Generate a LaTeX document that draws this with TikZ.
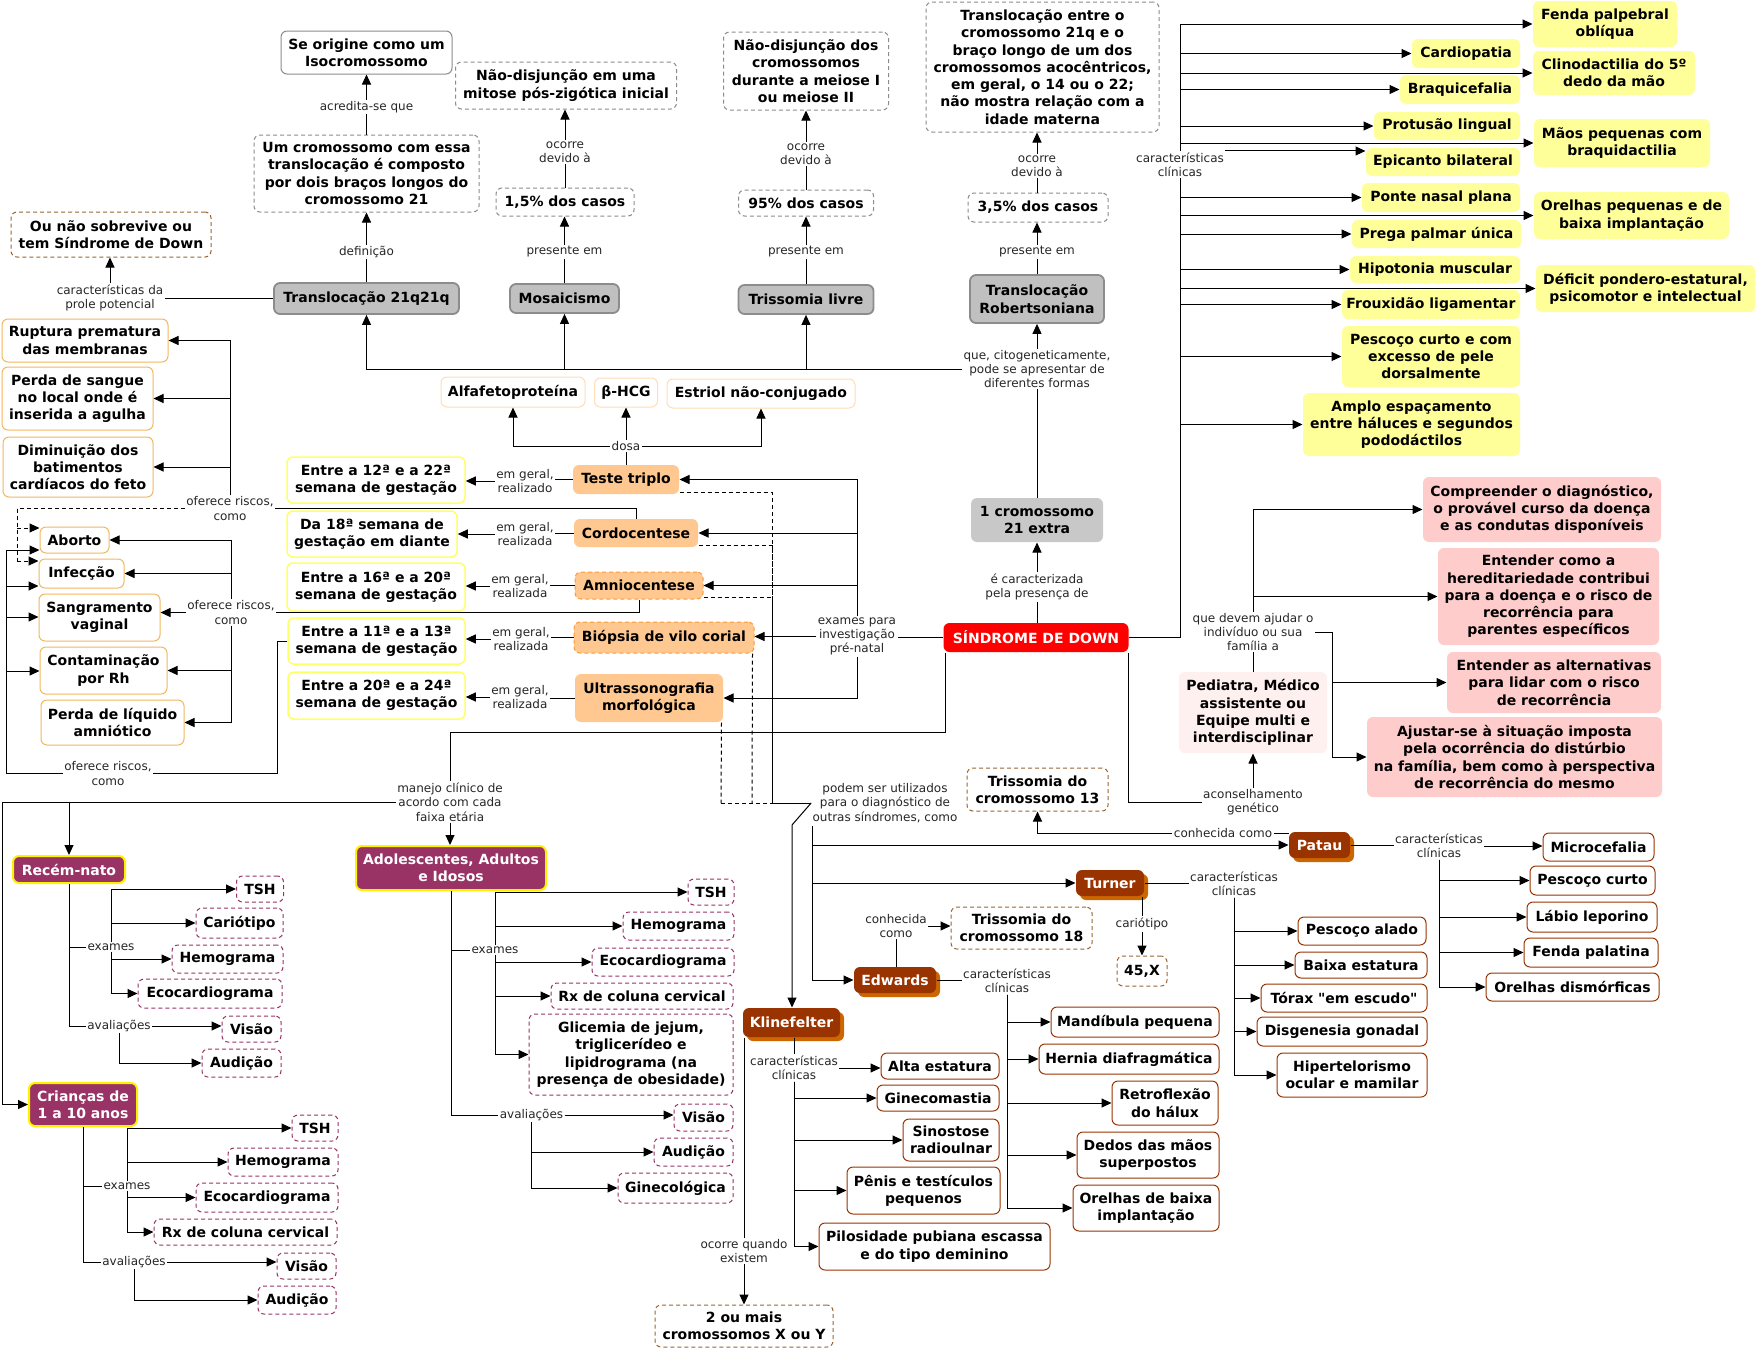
\documentclass[tikz,border=0pt]{standalone}
\usepackage{fontspec}
\setmainfont{DejaVu Sans}
\usetikzlibrary{arrows.meta,shadows,calc}
\definecolor{cgrayb}{HTML}{8C8C8C}
\definecolor{cgrayf}{HTML}{C0C0C0}
\definecolor{cgrayx}{HTML}{C8C8C8}
\definecolor{cbrown}{HTML}{993300}
\definecolor{cbrownd}{HTML}{996633}
\definecolor{cshadow}{HTML}{CC6600}
\definecolor{corb}{HTML}{F0B860}
\definecolor{cyb}{HTML}{FFFF66}
\definecolor{cof}{HTML}{FFC891}
\definecolor{cod}{HTML}{FF9933}
\definecolor{colb}{HTML}{FFDDB8}
\definecolor{cpurp}{HTML}{993366}
\definecolor{cyel}{HTML}{FFFF99}
\definecolor{cpink}{HTML}{FFCCCC}
\definecolor{cpale}{HTML}{FFF0F0}
\definecolor{cred}{HTML}{FF0000}
\newcommand\nodefont{\fontsize{14pt}{17.3pt}\selectfont\bfseries}
\newcommand\lblfont{\fontsize{12pt}{14.3pt}\selectfont}
\newcommand\Nd[7]{\node[#2,minimum width=#5pt,minimum height=#6pt] (#1) at (#3,#4) {#7};}
\newcommand\Lb[4]{\node[lbl] (#1) at (#2,#3) {#4};}
\begin{document}
\begin{tikzpicture}[x=1pt,y=-1pt,line width=1pt,
 arr/.style={-{Triangle[length=10pt,width=9pt]}},
 dsh/.style={dash pattern=on 4pt off 3pt},
 base/.style={rounded corners=6pt,align=center,inner sep=2pt,font=\nodefont,line width=1pt},
 gbox/.style={base,draw=cgrayb,fill=white},
 gdash/.style={base,draw=cgrayb,fill=white,dsh},
 gfill/.style={base,draw=cgrayb,fill=cgrayf,line width=1.8pt},
 xfill/.style={base,fill=cgrayx},
 bdash/.style={base,draw=cbrownd,fill=white,dsh},
 obox/.style={base,draw=corb,fill=white},
 ybox/.style={base,draw=cyb,fill=white,line width=1.5pt},
 ofill/.style={base,fill=cof},
 odash/.style={base,fill=cof,draw=cod,dsh},
 olb/.style={base,draw=colb,fill=white},
 sdb/.style={base,fill=cred,text=white},
 purp/.style={base,fill=cpurp,draw=yellow,line width=2pt,text=white},
 pdash/.style={base,draw=cpurp,fill=white,dsh},
 brn/.style={base,fill=cbrown,text=white,general shadow={fill=cshadow,shadow xshift=4pt,shadow yshift=-4pt}},
 bbox/.style={base,draw=cbrown,fill=white},
 yfill/.style={base,fill=cyel},
 pinkb/.style={base,fill=cpink},
 paleb/.style={base,fill=cpale},
 lbl/.style={font=\lblfont,align=center,inner sep=1pt,fill=white,text=black!85},
]
\fill[white] (0,0) rectangle (1757,1350);
\useasboundingbox (0,0) rectangle (1757,1350);

% ---------- top columns ----------
\Nd{iso}{gbox}{366.5}{52.5}{171}{43}{Se origine como um\\Isocromossomo}
\Nd{umcrom}{gdash}{366.5}{173.5}{225}{77}{Um cromossomo com essa\\translocação é composto\\por dois braços longos do\\cromossomo 21}
\Nd{t21}{gfill}{366.5}{298.5}{185}{31}{Translocação 21q21q}
\Nd{ounao}{bdash}{111}{234.5}{200}{45}{Ou não sobrevive ou\\tem Síndrome de Down}
\Nd{mosaic}{gfill}{564.5}{298.5}{109}{29}{Mosaicismo}
\Nd{p15}{gdash}{565}{202}{138}{28}{1,5\% dos casos}
\Nd{ndmit}{gdash}{566}{85.5}{221}{47}{Não-disjunção em uma\\mitose pós-zigótica inicial}
\Nd{tlivre}{gfill}{806}{299.5}{135}{29}{Trissomia livre}
\Nd{p95}{gdash}{806}{203}{135}{26}{95\% dos casos}
\Nd{ndmei}{gdash}{806}{71}{165}{78}{Não-disjunção dos\\cromossomos\\durante a meiose I\\ou meiose II}
\Nd{trob}{gfill}{1037}{299}{134}{48}{Translocação\\Robertsoniana}
\Nd{p35}{gdash}{1038}{207.5}{140}{29}{3,5\% dos casos}
\Nd{translong}{gdash}{1042.5}{67}{233}{130}{Translocação entre o\\cromossomo 21q e o\\braço longo de um dos\\cromossomos acocêntricos,\\em geral, o 14 ou o 22;\\não mostra relação com a\\idade materna}
\Nd{umextra}{xfill}{1037}{520}{132}{44}{1 cromossomo\\21 extra}
\Nd{sd}{sdb}{1036}{637.5}{185}{29}{SÍNDROME DE DOWN}

\Lb{lacred}{366.5}{107}{acredita-se que}
\Lb{ldef}{366.5}{252}{definição}
\Lb{lprole}{110}{298}{características da\\prole potencial}
\Lb{lpres1}{564.5}{252}{presente em}
\Lb{loc1}{565}{152}{ocorre\\devido à}
\Lb{lpres2}{806}{252}{presente em}
\Lb{loc2}{806}{154}{ocorre\\devido à}
\Lb{lpres3}{1037}{252}{presente em}
\Lb{loc3}{1037}{166}{ocorre\\devido à}
\Lb{lcitog}{1037}{369}{que, citogeneticamente,\\pode se apresentar de\\diferentes formas}
\Lb{lcarsd}{1037}{587}{é caracterizada\\pela presença de}

\draw (t21.north) -- (ldef.south);
\draw[arr] (ldef.north) -- (umcrom.south);
\draw (umcrom.north) -- (lacred.south);
\draw[arr] (lacred.north) -- (iso.south);
\draw (t21.west) -- (t21.west -| lprole.east);
\draw[arr] (lprole.north) -- (lprole.north |- ounao.south);
\draw (mosaic.north) -- (lpres1.south);
\draw[arr] (lpres1.north) -- (lpres1.north |- p15.south);
\draw (p15.north -| loc1.south) -- (loc1.south);
\draw[arr] (loc1.north) -- (loc1.north |- ndmit.south);
\draw (tlivre.north) -- (lpres2.south);
\draw[arr] (lpres2.north) -- (p95.south);
\draw (p95.north) -- (loc2.south);
\draw[arr] (loc2.north) -- (ndmei.south);
\draw (trob.north) -- (lpres3.south);
\draw[arr] (lpres3.north) -- (lpres3.north |- p35.south);
\draw (p35.north -| loc3.south) -- (loc3.south);
\draw[arr] (loc3.north) -- (loc3.north |- translong.south);
\draw[arr] (lcitog.west) -| (t21.south);
\draw[arr] (lcitog.west) -| (mosaic.south);
\draw[arr] (lcitog.west) -| (tlivre.south);
\draw[arr] (lcitog.north) -- (trob.south);
\draw (umextra.north) -- (lcitog.south);
\draw (sd.north -| lcarsd.south) -- (lcarsd.south);
\draw[arr] (lcarsd.north) -- (umextra.south);

% ---------- risks ----------
\Nd{rupt}{obox}{85}{340.5}{166}{43}{Ruptura prematura\\das membranas}
\Nd{perda}{obox}{77.5}{398.5}{151}{63}{Perda de sangue\\no local onde é\\inserida a agulha}
\Nd{dimin}{obox}{78}{467}{150}{60}{Diminuição dos\\batimentos\\cardíacos do feto}
\Nd{aborto}{obox}{74.5}{540}{69}{26}{Aborto}
\Nd{infec}{obox}{81.5}{573.5}{85}{29}{Infecção}
\Nd{sangr}{obox}{99.5}{617.5}{121}{47}{Sangramento\\vaginal}
\Nd{contam}{obox}{103.5}{670.5}{127}{47}{Contaminação\\por Rh}
\Nd{perdaliq}{obox}{112.5}{722.5}{143}{45}{Perda de líquido\\amniótico}
\Lb{lr1}{230}{508.5}{oferece riscos,\\como}
\Lb{lr2}{231}{612.5}{oferece riscos,\\como}
\Lb{lr3}{108}{773.5}{oferece riscos,\\como}

% ---------- exams ----------
\Nd{e12}{ybox}{376}{480}{178}{46}{Entre a 12ª e a 22ª\\semana de gestação}
\Nd{e18}{ybox}{372}{534}{170}{46}{Da 18ª semana de\\gestação em diante}
\Nd{e16}{ybox}{376}{587}{178}{48}{Entre a 16ª e a 20ª\\semana de gestação}
\Nd{e11}{ybox}{376.5}{641}{177}{46}{Entre a 11ª e a 13ª\\semana de gestação}
\Nd{e20}{ybox}{376.5}{695.5}{177}{47}{Entre a 20ª e a 24ª\\semana de gestação}
\Lb{lg1}{525}{481}{em geral,\\realizado}
\Lb{lg2}{525}{534}{em geral,\\realizada}
\Lb{lg3}{520}{586}{em geral,\\realizada}
\Lb{lg4}{521}{639}{em geral,\\realizada}
\Lb{lg5}{520}{697}{em geral,\\realizada}
\Nd{tt}{ofill}{626}{479.5}{106}{29}{Teste triplo}
\Nd{cordo}{ofill}{636}{533}{124}{28}{Cordocentese}
\Nd{amnio}{odash}{639}{585.5}{128}{27}{Amniocentese}
\Nd{biop}{odash}{664}{637.5}{180}{31}{Biópsia de vilo corial}
\Nd{ultra}{ofill}{649}{698}{148}{48}{Ultrassonografia\\morfológica}
\Lb{lexam}{857}{636.5}{exames para\\investigação\\pré-natal}
\Nd{alfa}{olb}{513}{392}{144}{30}{Alfafetoproteína}
\Nd{bhcg}{olb}{626}{392.5}{63}{29}{β-HCG}
\Nd{estriol}{olb}{761}{393.5}{188}{29}{Estriol não-conjugado}
\Lb{ldosa}{626}{446}{dosa}

\draw (sd.west) -- (sd.west -| lexam.east);
\draw[arr] (lexam.north) |- (tt.east);
\draw[arr] (lexam.north) |- (cordo.east);
\draw[arr] (lexam.north) |- (amnio.east);
\draw[arr] (lexam.west) -- (lexam.west -| biop.east);
\draw[arr] (lexam.south) |- (ultra.east);
\draw (tt.west) -- (tt.west -| lg1.east);
\draw[arr] (lg1.west) -- (lg1.west -| e12.east);
\draw (cordo.west) -- (cordo.west -| lg2.east);
\draw[arr] (lg2.west) -- (lg2.west -| e18.east);
\draw (amnio.west) -- (amnio.west -| lg3.east);
\draw[arr] (lg3.west) -- (lg3.west -| e16.east);
\draw (biop.west) -- (biop.west -| lg4.east);
\draw[arr] (lg4.west) -- (lg4.west -| e11.east);
\draw (ultra.west) -- (ultra.west -| lg5.east);
\draw[arr] (lg5.west) -- (lg5.west -| e20.east);
\draw (tt.north) -- (tt.north |- ldosa.south);
\draw[arr] (ldosa.north) -- (ldosa.north |- bhcg.south);
\draw[arr] (ldosa.west) -| (alfa.south);
\draw[arr] (ldosa.east) -| (estriol.south);

% risk connectors
\draw (cordo.north) |- (lr1.east);
\draw[arr] (lr1.north) |- (rupt.east);
\draw[arr] (lr1.north) |- (perda.east);
\draw[arr] (lr1.north) |- (dimin.east);
\coordinate (q1) at (17,508.5);
\coordinate (qa) at (17,528);
\coordinate (q2) at (17,561);
\draw[dsh] (lr1.west) -- (q1) -- (q2);
\draw[dsh,arr] (qa) -- (qa -| aborto.west);
\draw[dsh,arr] (q2) -- (q2 -| infec.west);
\draw (amnio.south) |- (lr2.east);
\draw[arr] (lr2.north) |- (aborto.east);
\draw[arr] (lr2.north) |- (infec.east);
\draw[arr] (lr2.west) -- (lr2.west -| sangr.east);
\draw[arr] (lr2.south) |- (contam.east);
\draw[arr] (lr2.south) |- (perdaliq.east);
\coordinate (q3) at (277,773.5);
\coordinate (q4) at (6,773.5);
\coordinate (r1) at (6,550);
\coordinate (r2) at (6,586);
\coordinate (r3) at (6,617);
\coordinate (r4) at (6,671);
\draw (e11.west) -| (q3) -- (lr3.east);
\draw (lr3.west) -- (q4) -- (r1);
\draw[arr] (r1) -- (r1 -| aborto.west);
\draw[arr] (r2) -- (r2 -| infec.west);
\draw[arr] (r3) -- (r3 -| sangr.west);
\draw[arr] (r4) -- (r4 -| contam.west);

% ---------- management ----------
\Lb{lman}{450}{802}{manejo clínico de\\acordo com cada\\faixa etária}
\Nd{recem}{purp}{69}{869.5}{112}{27}{Recém-nato}
\Nd{adol}{purp}{451}{868}{190}{44}{Adolescentes, Adultos\\e Idosos}
\Nd{crian}{purp}{83}{1104.5}{108}{43}{Crianças de\\1 a 10 anos}
\draw ($(sd.south west)+(2,0)$) -- ++(0,80) -| (lman.north);
\draw[arr] (lman.south) -- (lman.south |- adol.north);
\coordinate (m1) at (2,802);
\draw[arr] (lman.west) -- (m1) |- (crian.west);
\draw[arr] (recem.north |- lman.west) -- (recem.north);

\Nd{tsh1}{pdash}{260}{889}{47}{26}{TSH}
\Nd{cario}{pdash}{239.5}{923}{87}{30}{Cariótipo}
\Nd{hemo1}{pdash}{227.5}{959}{111}{28}{Hemograma}
\Nd{eco1}{pdash}{210}{993.5}{144}{29}{Ecocardiograma}
\Nd{vis1}{pdash}{251.5}{1029}{59}{26}{Visão}
\Nd{aud1}{pdash}{241.5}{1063}{79}{28}{Audição}
\Lb{lex1}{111}{947}{exames}
\Lb{lav1}{119}{1026}{avaliações}
\draw (recem.south) |- (lex1.west);
\draw (recem.south) |- (lav1.west);
\draw[arr] (lex1.north) |- (tsh1.west);
\draw[arr] (lex1.north) |- (cario.west);
\draw[arr] (lex1.south) |- (hemo1.west);
\draw[arr] (lex1.south) |- (eco1.west);
\draw[arr] (lav1.east) -- (lav1.east -| vis1.west);
\draw[arr] (lav1.south) |- (aud1.west);

\Nd{tsh2}{pdash}{315}{1128}{46}{26}{TSH}
\Nd{hemo2}{pdash}{283}{1162}{110}{28}{Hemograma}
\Nd{eco2}{pdash}{267}{1197.5}{142}{29}{Ecocardiograma}
\Nd{rx2}{pdash}{245.5}{1232}{183}{26}{Rx de coluna cervical}
\Nd{vis2}{pdash}{306.5}{1266}{59}{26}{Visão}
\Nd{aud2}{pdash}{297}{1300}{78}{28}{Audição}
\Lb{lex2}{127}{1186}{exames}
\Lb{lav2}{134}{1262}{avaliações}
\draw (crian.south) |- (lex2.west);
\draw (crian.south) |- (lav2.west);
\draw[arr] (lex2.north) |- (tsh2.west);
\draw[arr] (lex2.north) |- (hemo2.west);
\draw[arr] (lex2.south) |- (eco2.west);
\draw[arr] (lex2.south) |- (rx2.west);
\draw[arr] (lav2.east) -- (lav2.east -| vis2.west);
\draw[arr] (lav2.south) |- (aud2.west);

\Nd{tsh3}{pdash}{711}{892}{46}{26}{TSH}
\Nd{hemo3}{pdash}{678.5}{926}{111}{28}{Hemograma}
\Nd{eco3}{pdash}{663}{962}{142}{28}{Ecocardiograma}
\Nd{rx3}{pdash}{642}{996}{182}{26}{Rx de coluna cervical}
\Nd{glic}{pdash}{631}{1054.5}{204}{81}{Glicemia de jejum,\\triglicerídeo e\\lipidrograma (na\\presença de obesidade)}
\Nd{vis3}{pdash}{703.5}{1117.5}{59}{27}{Visão}
\Nd{aud3}{pdash}{693.5}{1152}{79}{28}{Audição}
\Nd{gin3}{pdash}{675.5}{1188}{115}{30}{Ginecológica}
\Lb{lex3}{495}{950}{exames}
\Lb{lav3}{531.5}{1115}{avaliações}
\draw (adol.south) |- (lex3.west);
\draw (adol.south) |- (lav3.west);
\draw[arr] (lex3.north) |- (tsh3.west);
\draw[arr] (lex3.north) |- (hemo3.west);
\draw[arr] (lex3.south) |- (eco3.west);
\draw[arr] (lex3.south) |- (rx3.west);
\draw[arr] (lex3.south) |- (glic.west);
\draw[arr] (lav3.east) -- (lav3.east -| vis3.west);
\draw[arr] (lav3.south) |- (aud3.west);
\draw[arr] (lav3.south) |- (gin3.west);

% ---------- other syndromes ----------
\Lb{lpod}{885}{803}{podem ser utilizados\\para o diagnóstico de\\outras síndromes, como}
\coordinate (s1) at (772,803);
\coordinate (s2) at (752,803);
\coordinate (s3) at (721,803);
\draw[dsh] ($(tt.south east)+(0,-2)$) -| (s1);
\draw[dsh] ($(cordo.south east)+(0,-2)$) -| (s1);
\draw[dsh] ($(amnio.south east)+(0,-2)$) -| (s1);
\draw[dsh] ($(biop.south east)+(-2,0)$) -- (s2);
\draw[dsh] ($(ultra.south east)+(-2,0)$) -- (s3);
\draw[dsh] (s3) -- (s1);
\draw (s1) -- (s1 -| lpod.west);

\Nd{patau}{brn}{1319.5}{845}{61}{26}{Patau}
\Nd{tri13}{bdash}{1037.5}{789.5}{141}{43}{Trissomia do\\cromossomo 13}
\Lb{lconh13}{1223}{833}{conhecida como}
\Lb{lccp}{1439}{846}{características\\clínicas}
\Nd{micro}{bbox}{1598.5}{847}{111}{28}{Microcefalia}
\Nd{pescurto}{bbox}{1592.5}{880.5}{125}{29}{Pescoço curto}
\Nd{labio}{bbox}{1592}{917}{130}{30}{Lábio leporino}
\Nd{fendapal}{bbox}{1591}{952.5}{134}{29}{Fenda palatina}
\Nd{oreldis}{bbox}{1572.5}{987}{173}{28}{Orelhas dismórficas}

\Nd{turner}{brn}{1110}{883}{68}{26}{Turner}
\Lb{lcct}{1234}{884}{características\\clínicas}
\Lb{lcar}{1142}{924}{cariótipo}
\Nd{x45}{bdash}{1142}{971}{50}{30}{45,X}
\Nd{pesalado}{bbox}{1362}{931}{128}{28}{Pescoço alado}
\Nd{baixa}{bbox}{1361}{965}{132}{26}{Baixa estatura}
\Nd{torax}{bbox}{1344}{998}{166}{28}{Tórax \textquotedbl em escudo\textquotedbl}
\Nd{disgen}{bbox}{1342}{1031.5}{170}{29}{Disgenesia gonadal}
\Nd{hiper}{bbox}{1352}{1075}{150}{44}{Hipertelorismo\\ocular e mamilar}

\Nd{edw}{brn}{895}{980}{82}{26}{Edwards}
\Lb{lconh18}{896}{926}{conhecida\\como}
\Nd{tri18}{bdash}{1021.5}{928}{141}{42}{Trissomia do\\cromossomo 18}
\Lb{lcce}{1007}{981}{características\\clínicas}
\Nd{mandib}{bbox}{1135}{1022}{168}{30}{Mandíbula pequena}
\Nd{hernia}{bbox}{1129}{1059}{180}{30}{Hernia diafragmática}
\Nd{retro}{bbox}{1165}{1103}{106}{44}{Retroflexão\\do hálux}
\Nd{dedos}{bbox}{1148}{1155}{142}{46}{Dedos das mãos\\superpostos}
\Nd{orelb}{bbox}{1146}{1208}{146}{46}{Orelhas de baixa\\implantação}

\Nd{kline}{brn}{791.5}{1022.5}{97}{29}{Klinefelter}
\Lb{lcck}{794}{1068}{características\\clínicas}
\Nd{alta}{bbox}{940}{1066}{118}{26}{Alta estatura}
\Nd{gineco}{bbox}{938}{1098}{122}{26}{Ginecomastia}
\Nd{sinost}{bbox}{951}{1140}{96}{42}{Sinostose\\radioulnar}
\Nd{penis}{bbox}{923.5}{1190.5}{153}{47}{Pênis e testículos\\pequenos}
\Nd{pilos}{bbox}{934.5}{1246.5}{231}{47}{Pilosidade pubiana escassa\\e do tipo deminino}
\Lb{locq}{744}{1251}{ocorre quando\\existem}
\Nd{xy}{bdash}{744}{1326}{178}{42}{2 ou mais\\cromossomos X ou Y}

\coordinate (kd) at (792,825);
\draw[arr] (lpod.west) -- (kd) -- (kd |- kline.north);
\coordinate (pd) at (812,826);
\draw[arr] (pd) |- (patau.west);
\draw[arr] (pd) |- (turner.west);
\draw[arr] (pd) |- (edw.west);

\draw (lconh13.east) -- (lconh13.east -| patau.west);
\draw[arr] (lconh13.west) -| (tri13.south);
\draw (patau.east) -- (patau.east -| lccp.west);
\draw[arr] (lccp.east) -- (lccp.east -| micro.west);
\draw[arr] (lccp.south) |- (pescurto.west);
\draw[arr] (lccp.south) |- (labio.west);
\draw[arr] (lccp.south) |- (fendapal.west);
\draw[arr] (lccp.south) |- (oreldis.west);

\draw (turner.east) -- (turner.east -| lcct.west);
\draw[arr] (lcct.south) |- (pesalado.west);
\draw[arr] (lcct.south) |- (baixa.west);
\draw[arr] (lcct.south) |- (torax.west);
\draw[arr] (lcct.south) |- (disgen.west);
\draw[arr] (lcct.south) |- (hiper.west);
\draw (lcar.north |- turner.south) -- (lcar.north);
\draw[arr] (lcar.south) -- (x45.north);

\draw (lconh18.south |- edw.north) -- (lconh18.south);
\draw[arr] (lconh18.east) -- (lconh18.east -| tri18.west);
\draw (edw.east) -- (edw.east -| lcce.west);
\draw[arr] (lcce.south) |- (mandib.west);
\draw[arr] (lcce.south) |- (hernia.west);
\draw[arr] (lcce.south) |- (retro.west);
\draw[arr] (lcce.south) |- (dedos.west);
\draw[arr] (lcce.south) |- (orelb.west);

\draw (lcck.north |- kline.south) -- (lcck.north);
\draw[arr] (lcck.east) -- (lcck.east -| alta.west);
\draw[arr] (lcck.south) |- (gineco.west);
\draw[arr] (lcck.south) |- (sinost.west);
\draw[arr] (lcck.south) |- (penis.west);
\draw[arr] (lcck.south) |- (pilos.west);
\draw (locq.north |- kline.south) -- (locq.north);
\draw[arr] (locq.south) -- (xy.north);

% ---------- clinical features ----------
\Lb{lccsd}{1180}{164.5}{características\\clínicas}
\Nd{fenda}{yfill}{1605}{24}{144}{46}{Fenda palpebral\\oblíqua}
\Nd{cardio}{yfill}{1466}{53.5}{108}{29}{Cardiopatia}
\Nd{clino}{yfill}{1614}{73}{162}{44}{Clinodactilia do 5º\\dedo da mão}
\Nd{braqui}{yfill}{1460}{89.5}{120}{29}{Braquicefalia}
\Nd{protus}{yfill}{1447}{126}{146}{28}{Protusão lingual}
\Nd{maos}{yfill}{1622}{143}{176}{48}{Mãos pequenas com\\braquidactilia}
\Nd{epic}{yfill}{1443}{162}{154}{28}{Epicanto bilateral}
\Nd{ponte}{yfill}{1441}{197.5}{158}{29}{Ponte nasal plana}
\Nd{orelpeq}{yfill}{1631.5}{215.5}{195}{47}{Orelhas pequenas e de\\baixa implantação}
\Nd{prega}{yfill}{1436.5}{234}{169}{28}{Prega palmar única}
\Nd{hipot}{yfill}{1435}{269.5}{170}{27}{Hipotonia muscular}
\Nd{deficit}{yfill}{1645.5}{288.5}{219}{47}{Déficit pondero-estatural,\\psicomotor e intelectual}
\Nd{froux}{yfill}{1431}{304.5}{178}{29}{Frouxidão ligamentar}
\Nd{pescexc}{yfill}{1431}{356.5}{178}{61}{Pescoço curto e com\\excesso de pele\\dorsalmente}
\Nd{amplo}{yfill}{1411.5}{424.5}{217}{63}{Amplo espaçamento\\entre háluces e segundos\\pododáctilos}
\draw (sd.east) -| (lccsd.south);
\draw[arr] (lccsd.north) |- (fenda.west);
\draw[arr] (lccsd.north) |- (cardio.west);
\draw[arr] (lccsd.north) |- (clino.west);
\draw[arr] (lccsd.north) |- (braqui.west);
\draw[arr] (lccsd.north) |- (protus.west);
\draw[arr] (lccsd.north) |- (maos.west);
\draw[arr] (lccsd.north east) -- (lccsd.north east -| epic.west);
\draw[arr] (lccsd.south) |- (ponte.west);
\draw[arr] (lccsd.south) |- (orelpeq.west);
\draw[arr] (lccsd.south) |- (prega.west);
\draw[arr] (lccsd.south) |- (hipot.west);
\draw[arr] (lccsd.south) |- (deficit.west);
\draw[arr] (lccsd.south) |- (froux.west);
\draw[arr] (lccsd.south) |- (pescexc.west);
\draw[arr] (lccsd.south) |- (amplo.west);

% ---------- genetic counselling ----------
\Lb{lacons}{1253}{802.5}{aconselhamento\\genético}
\Nd{ped}{paleb}{1253}{712.5}{148}{81}{Pediatra, Médico\\assistente ou\\Equipe multi e\\interdisciplinar}
\Lb{ldev}{1253}{632}{que devem ajudar o\\indivíduo ou sua\\família a}
\Nd{compre}{pinkb}{1542}{509.5}{238}{65}{Compreender o diagnóstico,\\o provável curso da doença\\e as condutas disponíveis}
\Nd{entcomo}{pinkb}{1548.5}{596.5}{221}{97}{Entender como a\\hereditariedade contribui\\para a doença e o risco de\\recorrência para\\parentes específicos}
\Nd{entalt}{pinkb}{1554}{682.5}{214}{61}{Entender as alternativas\\para lidar com o risco\\de recorrência}
\Nd{ajust}{pinkb}{1514.5}{757}{295}{80}{Ajustar-se à situação imposta\\pela ocorrência do distúrbio\\na família, bem como à perspectiva\\de recorrência do mesmo}
\draw ($(sd.south east)+(-1,0)$) |- (lacons.west);
\draw[arr] (lacons.north) -- (ped.south);
\draw (ped.north) -- (ldev.south);
\draw[arr] (ldev.north) |- (compre.west);
\draw[arr] (ldev.north) |- (entcomo.west);
\coordinate (dv) at (1332,632);
\draw (ldev.east) -- (dv);
\draw[arr] (dv) |- (entalt.west);
\draw[arr] (dv) |- (ajust.west);
\end{tikzpicture}
\end{document}
